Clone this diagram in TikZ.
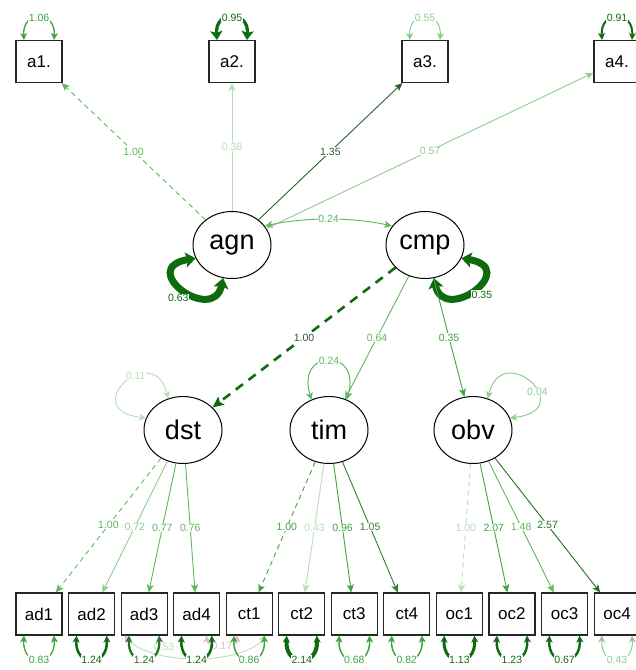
\documentclass[tikz,border=0pt]{standalone}
\usepackage{fontspec}
\setmainfont{Liberation Sans}
\usetikzlibrary{shapes.geometric,arrows.meta}

\definecolor{gDk}{HTML}{0E6B0E}
\definecolor{gDk2}{HTML}{1F741F}
\definecolor{gA3}{HTML}{2E5E2E}
\definecolor{gMid}{HTML}{3FA33F}
\definecolor{gMed}{HTML}{5DB95D}
\definecolor{gLt}{HTML}{8FCC8F}
\definecolor{gVlt}{HTML}{B9DEB9}
\definecolor{pLt}{HTML}{E9B9C2}

\begin{document}
\begin{tikzpicture}[x=1pt,y=-1pt,
  manifest/.style={draw=black!85,line width=1.1pt,minimum width=46pt,minimum height=42pt,
    inner sep=0pt,font=\fontsize{17}{17}\selectfont},
  latent/.style={ellipse,draw=black,line width=1pt,minimum width=78pt,minimum height=67pt,
    inner sep=0pt,font=\fontsize{27}{27}\selectfont},
  load/.style={-{Stealth[length=8pt,width=7pt,inset=2pt]},line width=0.9pt},
  dashload/.style={load,dash pattern=on 5pt off 4pt},
  lab/.style={fill=white,inner sep=0.4pt,font=\fontsize{10.5}{10.5}\selectfont},
  resid/.style={{Stealth[length=7pt,width=7pt,inset=2pt]}-{Stealth[length=7pt,width=7pt,inset=2pt]}},
  fatresid/.style={{Stealth[length=9pt,width=12pt,inset=2pt]}-{Stealth[length=9pt,width=12pt,inset=2pt]}},
  hugeresid/.style={{Stealth[length=10pt,width=15pt,inset=2pt]}-{Stealth[length=10pt,width=15pt,inset=2pt]}},
]
\useasboundingbox (0,0) rectangle (636,670);
\clip (0,0) rectangle (636,670);

% observed indicators, top row
\node[manifest] (a1) at (39,61.5) {a1.};
\node[manifest] (a2) at (232,61.5) {a2.};
\node[manifest] (a3) at (425,61.5) {a3.};
\node[manifest] (a4) at (617,61.5) {a4.};

% latent variables
\node[latent] (agn) at (232,245) {agn};
\node[latent] (cmp) at (425,245) {cmp};
\node[latent] (dst) at (183,430) {dst};
\node[latent] (tim) at (329,430) {tim};
\node[latent] (obv) at (473,430) {obv};

% observed indicators, bottom row
\foreach \n [count=\i from 0] in {ad1,ad2,ad3,ad4,ct1,ct2,ct3,ct4,oc1,oc2,oc3,oc4}
  \node[manifest] (\n) at (39+52.55*\i,614) {\n};

% loadings of agn
\draw[dashload,gMed] (agn) -- node[lab]{1.00} (a1);
\draw[load,gVlt] (agn) -- node[lab]{0.38} (a2);
\draw[load,gA3] (agn) -- node[lab]{1.35} (a3);
\draw[load,gLt] (agn) -- node[lab]{0.57} (a4);

% covariance agn <-> cmp
\draw[load,{Stealth[length=8pt,width=7pt,inset=2pt]}-{Stealth[length=8pt,width=7pt,inset=2pt]},gMed]
  (agn.30) .. controls +(40,-9) and +(-40,-9) .. (cmp.150) node[lab,pos=0.5]{0.24};

% latent variances
\draw[hugeresid,gDk,line width=7pt] (agn.200) .. controls +(-60,10) and +(-10,47) .. (agn.255)
  node[lab,pos=0.55,xshift=-9pt,yshift=-6pt]{0.63};
\draw[hugeresid,gDk,line width=7pt] (cmp.-20) .. controls +(60,10) and +(10,47) .. (cmp.-75)
  node[lab,pos=0.5,xshift=8pt,yshift=-5pt]{0.35};
\draw[resid,gVlt,line width=1pt] (dst.115) .. controls +(-15,-60) and +(-70,-8) .. (dst.162)
  node[lab,pos=0.38]{0.11};
\draw[resid,gMed,line width=1pt] (tim.120) .. controls +(-16,-52) and +(16,-52) .. (tim.60)
  node[lab,pos=0.5]{0.24};
\draw[resid,gLt,line width=1pt] (obv.65) .. controls +(15,-60) and +(70,-8) .. (obv.18)
  node[lab,pos=0.62]{0.04};

% structural paths from cmp
\draw[load,-{Stealth[length=11pt,width=10pt,inset=2pt]},gDk,line width=2.6pt,dash pattern=on 9pt off 7pt]
  (cmp) -- node[lab,text=gA3]{1.00} (dst);
\draw[load,gMed] (cmp) -- node[lab]{0.64} (tim);
\draw[load,gMid] (cmp) -- node[lab]{0.35} (obv);

% loadings of dst, tim, obv
\draw[dashload,gMed] (dst) -- node[lab]{1.00} (ad1);
\draw[load,gLt] (dst) -- node[lab]{0.72} (ad2);
\draw[load,gMed] (dst) -- node[lab]{0.77} (ad3);
\draw[load,gMed] (dst) -- node[lab]{0.76} (ad4);
\draw[dashload,gMid] (tim) -- node[lab]{1.00} (ct1);
\draw[load,gVlt] (tim) -- node[lab]{0.43} (ct2);
\draw[load,gMid] (tim) -- node[lab]{0.96} (ct3);
\draw[load,gMid!80!black] (tim) -- node[lab]{1.05} (ct4);
\draw[dashload,gVlt] (obv) -- node[lab]{1.00} (oc1);
\draw[load,gMid] (obv) -- node[lab]{2.07} (oc2);
\draw[load,gMed] (obv) -- node[lab]{1.48} (oc3);
\draw[load,gDk2] (obv) -- node[lab]{2.57} (oc4);

% residual variances, top row
\draw[resid,gMid,line width=1.4pt] ([xshift=-15pt]a1.north) .. controls +(-2,-30) and +(2,-30) ..
  ([xshift=15pt]a1.north) node[lab,pos=0.5]{1.06};
\draw[fatresid,gDk,line width=3.2pt] ([xshift=-15pt]a2.north) .. controls +(-2,-30) and +(2,-30) ..
  ([xshift=15pt]a2.north) node[lab,pos=0.5]{0.95};
\draw[resid,gLt,line width=1pt] ([xshift=-15pt]a3.north) .. controls +(-2,-30) and +(2,-30) ..
  ([xshift=15pt]a3.north) node[lab,pos=0.5]{0.55};
\draw[resid,gDk,line width=2pt] ([xshift=-15pt]a4.north) .. controls +(-2,-30) and +(2,-30) ..
  ([xshift=15pt]a4.north) node[lab,pos=0.5]{0.91};

% covariances between residuals
\draw[resid,gVlt,line width=0.9pt] ([xshift=-20pt]ad3.south) .. controls +(30,32) and +(-20,28) ..
  ([xshift=16pt]ct1.south) node[lab,pos=0.3,yshift=8pt]{0.53};
\draw[resid,pLt,line width=0.9pt] ([xshift=10pt]ad4.south) .. controls +(0,14) and +(0,14) ..
  ([xshift=-12pt]ct1.south) node[lab,pos=0.5]{0.17};

% residual variances, bottom row
\foreach \n/\v/\c/\w in {ad1/0.83/gMid/1.3pt, ad2/1.24/gDk/2.6pt, ad3/1.24/gDk2/2.2pt,
    ad4/1.24/gDk/2.6pt, ct1/0.86/gMid/1.5pt, ct2/2.14/gDk/4pt, ct3/0.68/gMid/1.5pt,
    ct4/0.82/gMid/1.5pt, oc1/1.13/gDk/3pt, oc2/1.23/gDk/2.4pt, oc3/0.67/gDk/2.4pt,
    oc4/0.43/gLt/1pt}
  \draw[resid,\c,line width=\w] ([xshift=-15pt]\n.south) .. controls +(-2,32) and +(2,32) ..
    ([xshift=15pt]\n.south) node[lab,pos=0.5]{\v};
\end{tikzpicture}
\end{document}
